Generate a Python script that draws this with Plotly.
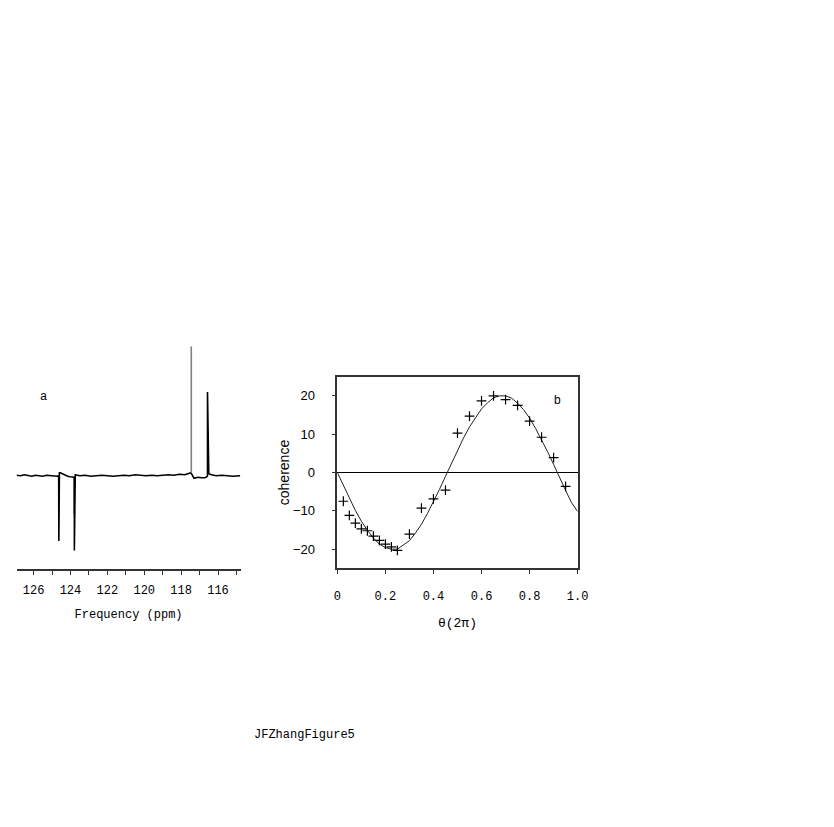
import plotly.graph_objects as go

# panel a: 15N spectrum (arbitrary intensity units)
spec_ppm = [126.92, 126.7, 126.5, 126.3, 126.1, 125.9, 125.7, 125.5, 125.3, 125.1,
            124.9, 124.72, 124.64, 124.64, 124.63, 124.63, 124.6, 124.55, 124.45,
            124.3, 124.15, 124.0, 123.86, 123.80, 123.80, 123.79, 123.79, 123.74,
            123.5, 123.2, 122.9, 122.6, 122.3, 122.0, 121.7, 121.4, 121.1, 120.8,
            120.5, 120.2, 119.9, 119.6, 119.3, 119.0, 118.7, 118.4, 118.1, 117.8,
            117.6, 117.47, 117.3, 117.1, 116.9, 116.7,
            116.6, 116.57, 116.57, 116.5, 116.35, 116.1, 115.8, 115.5, 115.2, 114.8]
spec_int = [0.5, 0.0, 1.0, 0.0, -0.5, 0.5, 0.0, -0.5, 0.5, 0.0,
            0.0, -0.5, 0.0, -26.0, -26.0, -65.5, 3.0, 3.0, 2.0,
            0.5, -0.5, -1.0, -1.5, -1.5, -37.5, -37.5, -75.0, 1.0,
            0.0, 0.5, -0.5, 0.0, 0.5, 0.0, -0.5, 0.0, 0.5, 0.0,
            1.0, 0.5, 0.0, 0.5, 0.0, 0.5, 1.0, 0.5, 1.5, 1.0,
            2.0, 3.0, -2.5, -1.5, -2.0, -2.0,
            -1.0, 0.0, 84.0, 2.0, 1.0, 0.0, 0.5, 0.0, -0.5, 0.0]
tall_ppm = [117.45, 117.45]
tall_int = [3.0, 129.5]

# panel b: coherence vs theta
fit_theta = [0.0, 0.025, 0.05, 0.075, 0.1, 0.125, 0.15, 0.175, 0.2, 0.225, 0.25,
             0.275, 0.3, 0.325, 0.35, 0.375, 0.4, 0.425, 0.45, 0.475, 0.5, 0.525,
             0.55, 0.575, 0.6, 0.625, 0.65, 0.675, 0.7, 0.725, 0.75, 0.775, 0.8,
             0.825, 0.85, 0.875, 0.9, 0.925, 0.95, 0.975, 1.0]
fit_coh = [0.0, -3.4, -6.7, -9.9, -12.7, -15.1, -17.1, -18.7, -19.6, -20.0, -20.0,
           -19.0, -17.8, -15.8, -13.5, -10.7, -7.7, -4.4, -1.0, 2.4, 5.8, 9.0,
           11.9, 14.4, 16.6, 18.2, 19.5, 20.0, 20.0, 19.4, 18.1, 16.4, 14.2,
           11.5, 8.6, 5.4, 2.1, -1.4, -4.7, -7.9, -10.2]
exp_theta = [0.025, 0.05, 0.075, 0.1, 0.125, 0.15, 0.175, 0.2, 0.225, 0.25,
             0.3, 0.35, 0.4, 0.45, 0.5, 0.55, 0.6, 0.65, 0.7, 0.75, 0.8, 0.85,
             0.9, 0.95]
exp_coh = [-7.5, -11.2, -13.2, -14.7, -15.2, -16.6, -17.7, -18.7, -19.4, -20.3,
           -16.1, -9.3, -6.9, -4.6, 10.3, 14.7, 18.7, 20.0, 19.0, 17.5, 13.4, 9.2,
           3.9, -3.6]

W, H = 834, 827
OFF = 8  # page body margin around the plot div
mono = "Liberation Mono"
sans = "Liberation Sans"


def fx(p):
    return (p - OFF) / W


def fy(p):
    return 1 - (p - OFF) / H


fig = go.Figure()

fig.add_trace(go.Scatter(x=spec_ppm, y=spec_int, mode="lines",
                         line=dict(color="black", width=1.6),
                         xaxis="x", yaxis="y", showlegend=False))
fig.add_trace(go.Scatter(x=tall_ppm, y=tall_int, mode="lines",
                         line=dict(color="#808080", width=1.6),
                         xaxis="x", yaxis="y", showlegend=False))

fig.add_trace(go.Scatter(x=fit_theta, y=fit_coh, mode="lines",
                         line=dict(color="#222222", width=1),
                         xaxis="x2", yaxis="y2", showlegend=False))
fig.add_trace(go.Scatter(x=exp_theta, y=exp_coh, mode="markers",
                         marker=dict(symbol="cross-thin", size=7,
                                     line=dict(color="black", width=1.2)),
                         xaxis="x2", yaxis="y2", showlegend=False))

fig.update_layout(
    width=W, height=H,
    margin=dict(l=0, r=0, t=0, b=0),
    paper_bgcolor="white", plot_bgcolor="white",
    xaxis=dict(domain=[fx(12.7), fx(240.7)], range=[126.92, 114.78],
               anchor="y", showgrid=False, zeroline=False,
               showline=True, linecolor="#333333", linewidth=2,
               ticks="outside", ticklen=4, tickcolor="#333333",
               tickvals=[126, 124, 122, 120, 118, 116],
               minor=dict(ticks="outside", ticklen=4, tickcolor="#333333",
                          tickvals=[125, 123, 121, 119, 117, 115]),
               ticklabelstandoff=5,
               tickfont=dict(family=mono, size=12, color="black"),
               title=dict(text="Frequency (ppm)", standoff=12,
                          font=dict(family=mono, size=12, color="black"))),
    yaxis=dict(domain=[fy(569), fy(345)], range=[-93.5, 131],
               anchor="x", visible=False),
    xaxis2=dict(domain=[fx(339.3), fx(584)], range=[0, 1],
                anchor="y2", showgrid=False, zeroline=False,
                showline=True, linecolor="#333333", linewidth=1.5, mirror=True,
                ticks="outside", ticklen=4, tickcolor="#333333",
                tickvals=[0, 0.2, 0.4, 0.6, 0.8, 1.0],
                ticktext=["0", "0.2", "0.4", "0.6", "0.8", "1.0"],
                ticklabelstandoff=12,
                tickfont=dict(family=mono, size=12, color="black"),
                title=dict(text="θ(2π)", standoff=14,
                           font=dict(family=mono, size=13, color="black"))),
    yaxis2=dict(domain=[fy(568.3), fy(376.7)], range=[-25, 25],
                anchor="x2", showgrid=False,
                zeroline=True, zerolinecolor="black", zerolinewidth=1,
                showline=True, linecolor="#333333", linewidth=1.5, mirror=True,
                ticks="outside", ticklen=4, tickcolor="#333333",
                tickvals=[-20, -10, 0, 10, 20],
                ticktext=["\u221220", "\u221210", "0", "10", "20"],
                ticklabelstandoff=14,
                tickfont=dict(family=sans, size=13, color="black"),
                title=dict(text="coherence", standoff=0,
                           font=dict(family=sans, size=14, color="black"))),
    annotations=[
        dict(text="a", x=fx(40), y=fy(397), xref="paper", yref="paper",
             xanchor="center", yanchor="middle", showarrow=False,
             font=dict(family=mono, size=12, color="black")),
        dict(text="b", x=fx(563), y=fy(400), xref="paper", yref="paper",
             xanchor="center", yanchor="middle", showarrow=False,
             font=dict(family=sans, size=12, color="black")),
        dict(text="JFZhangFigure5", x=fx(306), y=fy(735),
             xref="paper", yref="paper", xanchor="center", yanchor="middle",
             showarrow=False, font=dict(family=mono, size=12, color="black")),
    ],
)

fig.write_html("out.html")
